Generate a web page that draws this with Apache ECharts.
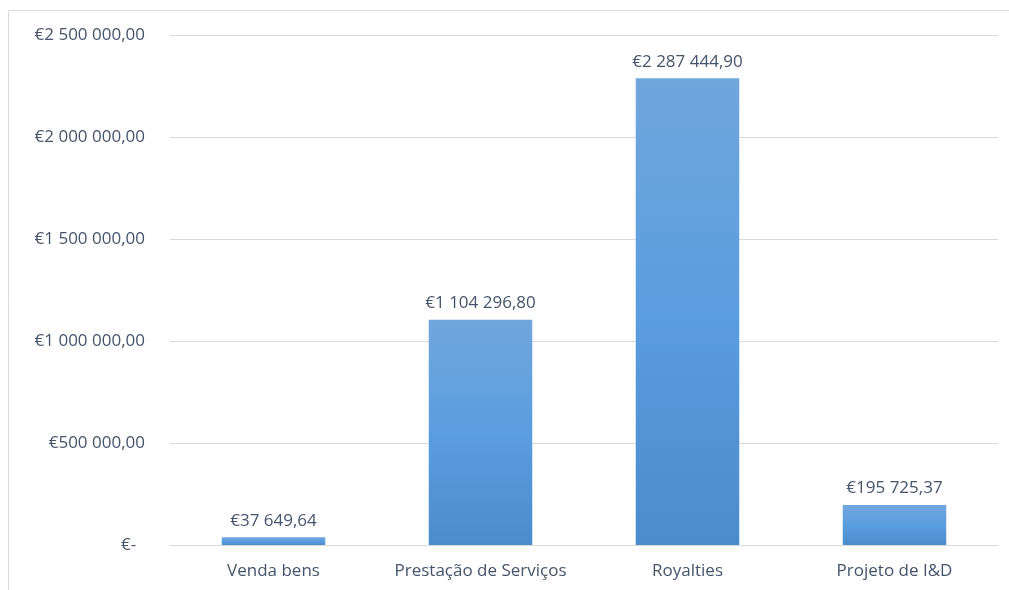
<!DOCTYPE html>
<html>
<head>
<meta charset="utf-8">
<script src="https://cdn.jsdelivr.net/npm/echarts@6/dist/echarts.min.js"></script>
<style>
  html, body { margin: 0; padding: 0; background: #fff; }
  #chart { width: 1009px; height: 590px; }
</style>
</head>
<body>
<div id="chart"></div>
<script>
const categories = ["Venda bens", "Prestação de Serviços", "Royalties", "Projeto de I&D"];
const values = [37649.64, 1104296.80, 2287444.90, 195725.37];
const yTicks = [0, 500000, 1000000, 1500000, 2000000, 2500000];

// formato euro: espaço como separador de milhares, vírgula decimal
function euro(v) {
  if (v === 0) return "€-  ";
  const parts = v.toFixed(2).split(".");
  const int = parts[0].replace(/\B(?=(\d{3})+(?!\d))/g, " ");
  return "€" + int + "," + parts[1];
}

const textColor = "#44546a";
const fontFamily = "'Open Sans', 'Noto Sans', sans-serif";

let myChart = echarts.init(document.getElementById("chart"));
let option = {
  animation: false,
  graphic: [{
    type: "rect",
    shape: { x: 8.5, y: 10.5, width: 1010, height: 600 },
    style: { fill: "none", stroke: "#d9d9d9", lineWidth: 1 }
  }],
  grid: { left: 170, right: 11, top: 35, bottom: 45 },
  xAxis: {
    type: "category",
    data: categories,
    axisLine: { show: true, lineStyle: { color: "#d9d9d9", width: 1 } },
    axisTick: { show: false },
    axisLabel: { color: textColor, fontSize: 17, fontFamily: fontFamily, margin: 18, interval: 0 }
  },
  yAxis: {
    type: "value",
    min: 0,
    max: yTicks[yTicks.length - 1],
    interval: 500000,
    axisLine: { show: false },
    axisTick: { show: false },
    axisLabel: { color: textColor, fontSize: 17, fontFamily: fontFamily, margin: 25, formatter: euro },
    splitLine: { show: true, lineStyle: { color: "#d9d9d9", width: 1 } }
  },
  series: [{
    type: "bar",
    data: values,
    barWidth: "50%",
    itemStyle: {
      color: new echarts.graphic.LinearGradient(0, 0, 0, 1, [
        { offset: 0, color: "#71a6dc" },
        { offset: 0.5, color: "#5a9de0" },
        { offset: 1, color: "#4a8ccd" }
      ])
    },
    label: {
      show: true,
      position: "top",
      distance: 8,
      color: textColor,
      fontSize: 17,
      fontFamily: fontFamily,
      formatter: p => euro(p.value)
    }
  }]
};
myChart.setOption(option);
</script>
</body>
</html>
